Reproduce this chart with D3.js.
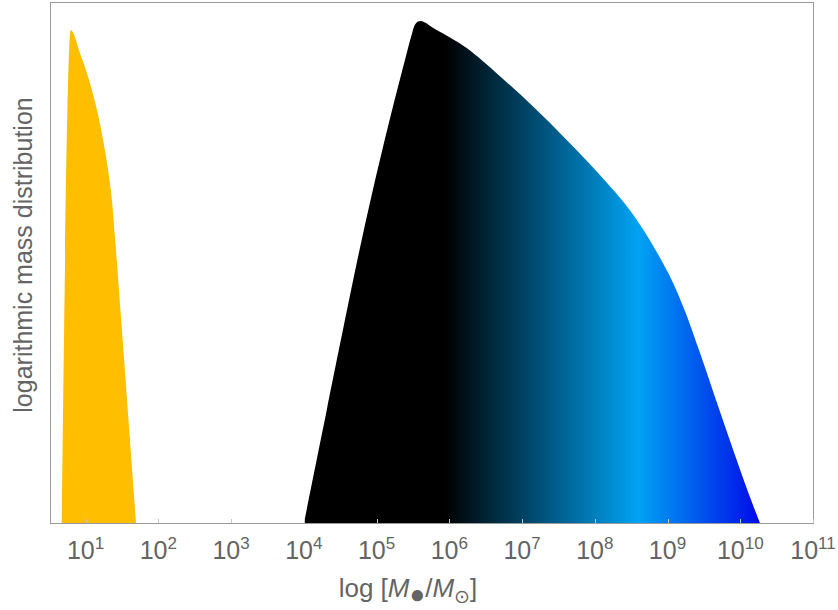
<!DOCTYPE html>
<html>
<head>
<meta charset="utf-8">
<script src="https://cdn.jsdelivr.net/npm/d3@7"></script>
<style>
  body { margin: 0; background: #fff; }
  svg { display: block; }
  text { font-family: "Liberation Sans", Arial, sans-serif; fill: #646464; }
</style>
</head>
<body>
<svg id="chart" width="838" height="610"></svg>
<script>
// ---- data (log10 of mass, relative distribution) ----
const starLogM = [0.672, 0.796, 0.924, 1.061, 1.175, 1.247, 1.309, 1.364, 1.405, 1.454, 1.574, 1.693];
const starDist = [0, 0.982, 0.936, 0.876, 0.811, 0.758, 0.703, 0.641, 0.568, 0.474, 0.237, 0];

const bhLogM = [4.003, 4.313, 4.622, 4.766, 4.917, 5.079, 5.249, 5.390, 5.478, 5.529, 5.570, 5.611, 5.666, 5.780,
                6.010, 6.239, 6.697, 7.155, 7.614, 8.071, 8.529, 8.988, 9.216, 9.446, 9.676, 9.904, 10.133, 10.271];
const bhDist  = [0, 0.223, 0.444, 0.544, 0.643, 0.743, 0.843, 0.922, 0.970, 0.993, 0.999, 1.0, 0.997, 0.986,
                0.967, 0.946, 0.890, 0.829, 0.763, 0.693, 0.614, 0.504, 0.431, 0.339, 0.241, 0.145, 0.052, 0];

const tickExponents = [1, 2, 3, 4, 5, 6, 7, 8, 9, 10, 11];

// gradient stops along log mass
const gradLogM   = [5.93, 8.60, 10.30];
const gradColors = ["#000000", "#00a3f3", "#0008e8"];

// ---- layout ----
const mLeft = 50, mRight = 813, mTop = 2, mBottom = 523;
const svg = d3.select("#chart");

const x = d3.scaleLog().domain([Math.pow(10, 0.511), 1e11]).range([mLeft, mRight]);
const y = d3.scaleLinear().domain([0, 1]).range([mBottom, 21]);

const defs = svg.append("defs");
const g0 = x(Math.pow(10, gradLogM[0])), g1 = x(Math.pow(10, gradLogM[gradLogM.length - 1]));
const grad = defs.append("linearGradient")
  .attr("id", "bhGrad")
  .attr("gradientUnits", "userSpaceOnUse")
  .attr("x1", g0).attr("x2", g1)
  .attr("y1", 0).attr("y2", 0);
gradLogM.forEach((m, i) => {
  grad.append("stop")
    .attr("offset", (x(Math.pow(10, m)) - g0) / (g1 - g0))
    .attr("stop-color", gradColors[i]);
});

const areaStar = d3.area()
  .x(d => x(Math.pow(10, d[0])))
  .y0(y(0))
  .y1(d => y(d[1]))
  .curve(d3.curveMonotoneX);

const areaBH = d3.area()
  .x(d => x(Math.pow(10, d[0])))
  .y0(y(0))
  .y1(d => y(d[1]))
  .curve(d3.curveCatmullRom.alpha(0.5));

svg.append("path")
  .datum(starLogM.map((m, i) => [m, starDist[i]]))
  .attr("d", areaStar)
  .attr("fill", "#ffbf00");

svg.append("path")
  .datum(bhLogM.map((m, i) => [m, bhDist[i]]))
  .attr("d", areaBH)
  .attr("fill", "url(#bhGrad)");

// frame
svg.append("rect")
  .attr("x", mLeft + 0.5).attr("y", mTop + 0.5)
  .attr("width", mRight - mLeft).attr("height", mBottom - mTop)
  .attr("fill", "none").attr("stroke", "#9a9a9a").attr("stroke-width", 1);

// ticks
const ticks = tickExponents.map(e => Math.pow(10, e));
svg.append("g").selectAll("line").data(ticks).join("line")
  .attr("x1", d => Math.round(x(d)) + 0.5).attr("x2", d => Math.round(x(d)) + 0.5)
  .attr("y1", mBottom).attr("y2", mBottom - 4)
  .attr("stroke", "#c8c8c8").attr("stroke-width", 1);

// tick labels
const lbl = svg.append("g").selectAll("text").data(tickExponents).join("text")
  .attr("x", e => x(Math.pow(10, e)))
  .attr("y", 559)
  .attr("text-anchor", "middle")
  .style("font-size", "25px");
lbl.append("tspan").text("10");
lbl.append("tspan").attr("dy", -10).style("font-size", "17px").text(e => e);

// x title
const xt = svg.append("text")
  .attr("x", 408).attr("y", 597)
  .attr("text-anchor", "middle")
  .style("font-size", "26px");
xt.append("tspan").text("log [");
xt.append("tspan").style("font-style", "italic").text("M");
xt.append("tspan").attr("dy", 6).style("font-size", "26px").text("●");
xt.append("tspan").attr("dy", -6).text("/");
xt.append("tspan").style("font-style", "italic").text("M");
xt.append("tspan").attr("dy", 6).style("font-size", "19px").text("⊙");
xt.append("tspan").attr("dy", -6).text("]");

// y title
svg.append("text")
  .attr("transform", "translate(32,255) rotate(-90)")
  .attr("text-anchor", "middle")
  .style("font-size", "25px")
  .text("logarithmic mass distribution");
</script>
</body>
</html>
